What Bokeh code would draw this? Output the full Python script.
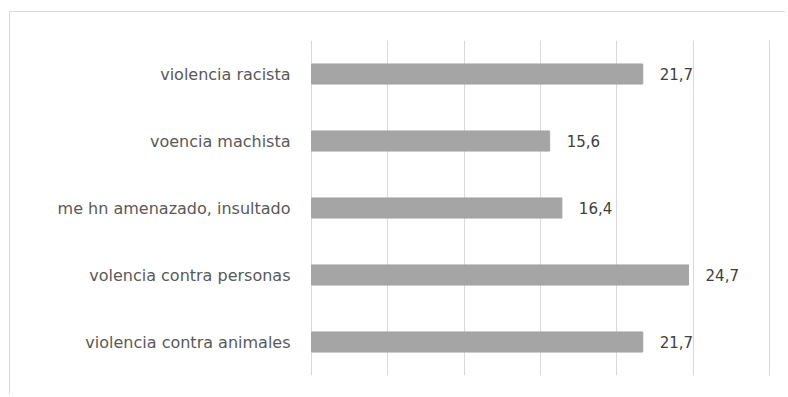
from bokeh.plotting import figure
from bokeh.models import FactorRange, Range1d, FixedTicker, ColumnDataSource
from bokeh.embed import file_html
from bokeh.resources import INLINE
from bokeh.core.properties import value

categories = ["violencia racista", "voencia machista", "me hn amenazado, insultado",
              "volencia contra personas", "violencia contra animales"]
values = [21.7, 15.6, 16.4, 24.7, 21.7]
value_labels = ["21,7", "15,6", "16,4", "24,7", "21,7"]
grid_ticks = [0, 5, 10, 15, 20, 25, 30]

FONT = "DejaVu Sans"
FS = "16px"

src = ColumnDataSource(dict(cat=categories, val=values, lab=value_labels))

p = figure(width=776, height=383,
           y_range=FactorRange(factors=categories[::-1]),
           x_range=Range1d(-0.2, 30.2),
           output_backend="svg", toolbar_location=None,
           min_border_left=298, min_border_right=14,
           min_border_top=28, min_border_bottom=20)
p.styles = {"border-top": "1px solid #D9D9D9", "border-left": "1px solid #D9D9D9",
            "margin-left": "9px", "margin-top": "11px"}

p.hbar(y="cat", left=0, right="val", height=0.3, source=src,
       fill_color="#A5A5A5", line_color="#A5A5A5")
p.text(x="val", y="cat", text="lab", source=src, x_offset=17,
       text_baseline="middle", text_align="left",
       text_font=value(FONT), text_font_size="15px", text_color="#404040")

p.xaxis.visible = False
p.xgrid.ticker = FixedTicker(ticks=grid_ticks)
p.xgrid.grid_line_color = "#D9D9D9"
p.ygrid.grid_line_color = None
p.outline_line_color = None

ya = p.yaxis[0]
ya.axis_line_color = None
ya.major_tick_line_color = None
ya.minor_tick_line_color = None
ya.major_tick_out = 0
ya.major_tick_in = 0
ya.major_label_standoff = 18
ya.major_label_text_font = FONT
ya.major_label_text_font_size = FS
ya.major_label_text_color = "#595959"

open("out.html", "w").write(file_html(p, INLINE))
